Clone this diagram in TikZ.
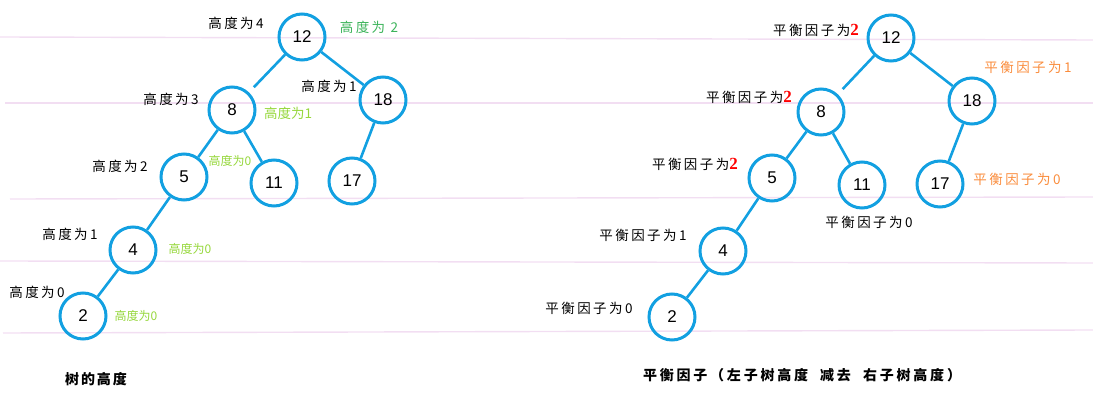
\documentclass[tikz,border=0pt]{standalone}
\usepackage{fontspec}
\setmainfont{Liberation Sans}
\newfontfamily\cjk[LetterSpace=18]{Noto Sans CJK SC}
\newfontfamily\cjktight{Noto Sans CJK SC}
\newfontfamily\cjktitle[LetterSpace=14]{Noto Sans CJK SC}
\newfontfamily\cjkwide[LetterSpace=20]{Noto Sans CJK SC}
\newfontfamily\numserif{Liberation Serif}
\usepackage{xcolor}
\usepackage{tikz}
\usetikzlibrary{calc,positioning}

\definecolor{nodeblue}{RGB}{18,160,225}
\definecolor{hgreen}{RGB}{60,179,90}
\definecolor{hlime}{RGB}{150,215,60}
\definecolor{forange}{RGB}{250,140,60}
\definecolor{rulepink}{RGB}{242,222,242}
\newcommand{\redtwo}{\textcolor{red}{\numserif\bfseries\fontsize{17}{17}\selectfont 2}}

\begin{document}
\begin{tikzpicture}[
    x=1pt, y=-1pt,
    treenode/.style={circle, draw=nodeblue, line width=3pt, minimum size=46pt, inner sep=0pt, font=\fontsize{17}{17}\selectfont},
    branch/.style={draw=nodeblue, line width=2.6pt},
    farbranch/.style={branch, shorten >=7pt},
    hlabel/.style={inner sep=0pt, font=\cjk\fontsize{13.5}{14}\selectfont},
    hsmall/.style={inner sep=0pt, text=hlime, font=\cjktight\fontsize{12}{13}\selectfont},
    hmid/.style={inner sep=0pt, text=hlime, font=\cjktight\fontsize{13.5}{14}\selectfont},
    caption/.style={inner sep=0pt, font=\cjktitle\bfseries\fontsize{14}{15}\selectfont}
]
\useasboundingbox (0,0) rectangle (1093,403);

% faint ruling
\foreach \xa/\ya/\yb in {0/37/40, 5/103/103, 10/199/197, 0/261/263, 3/333/330}
  \draw[rulepink, line width=1.4pt] (\xa,\ya) -- (1093,\yb);

% tree height
\node[treenode] (L12) at (302,37) {12};
\node[treenode] (L8) at (232,110) {8};
\node[treenode] (L18) at (383,100) {18};
\node[treenode] (L5) at (184,177) {5};
\node[treenode] (L11) at (274,183) {11};
\node[treenode] (L17) at (352,181) {17};
\node[treenode] (L4) at (133,250) {4};
\node[treenode] (L2) at (83,316) {2};

\draw[farbranch] (L12) -- (L8);
\draw[branch] (L12) -- (L18);
\draw[branch] (L8) -- (L5);
\draw[branch] (L8) -- (L11);
\draw[branch] (L18) -- (L17);
\draw[branch] (L5) -- (L4);
\draw[branch] (L4) -- (L2);

\node[hlabel] (hL12) at (236,23) {高度为4};
\node[hlabel, text=hgreen] (gL12) at (369,27) {高度为 2};
\node[hlabel] (hL18) at (329,86) {高度为1};
\node[hlabel] (hL8) at (171,99) {高度为3};
\node[hmid] (gL8) at (288,113) {高度为1};
\node[hlabel] (hL5) at (120,166) {高度为2};
\node[hsmall] (gL5) at (230,161) {高度为0};
\node[hlabel] (hL4) at (70,234) {高度为1};
\node[hsmall] (gL4) at (190,249) {高度为0};
\node[hlabel] (hL2) at (37,292) {高度为0};
\node[hsmall] (gL2) at (136,316) {高度为0};
\node[caption] (capL) at (96,379) {树的高度};

% balance factor
\node[treenode] (R12) at (891,38) {12};
\node[treenode] (R8) at (821,112) {8};
\node[treenode] (R18) at (972,101) {18};
\node[treenode] (R5) at (772,178) {5};
\node[treenode] (R11) at (862,185) {11};
\node[treenode] (R17) at (940,184) {17};
\node[treenode] (R4) at (723,251) {4};
\node[treenode] (R2) at (672,317) {2};

\draw[farbranch] (R12) -- (R8);
\draw[branch] (R12) -- (R18);
\draw[branch] (R8) -- (R5);
\draw[branch] (R8) -- (R11);
\draw[branch] (R18) -- (R17);
\draw[branch] (R5) -- (R4);
\draw[branch] (R4) -- (R2);

\node[hlabel] (fR12) at (816,30) {平衡因子为\redtwo};
\node[hlabel] (fR8) at (749,97) {平衡因子为\redtwo};
\node[hlabel] (fR5) at (695,164) {平衡因子为\redtwo};
\node[hlabel, text=forange] (fR18) at (1028,67) {平衡因子为1};
\node[hlabel, text=forange] (fR17) at (1017,179) {平衡因子为0};
\node[hlabel] (fR11) at (869,222) {平衡因子为0};
\node[hlabel] (fR4) at (643,235) {平衡因子为1};
\node[hlabel] (fR2) at (589,308) {平衡因子为0};
\node[caption, font=\cjkwide\bfseries\fontsize{14}{15}\selectfont] (capR) at (802,375) {平衡因子（左子树高度\hspace{6pt} 减去\hspace{6pt} 右子树高度）};
\end{tikzpicture}
\end{document}
